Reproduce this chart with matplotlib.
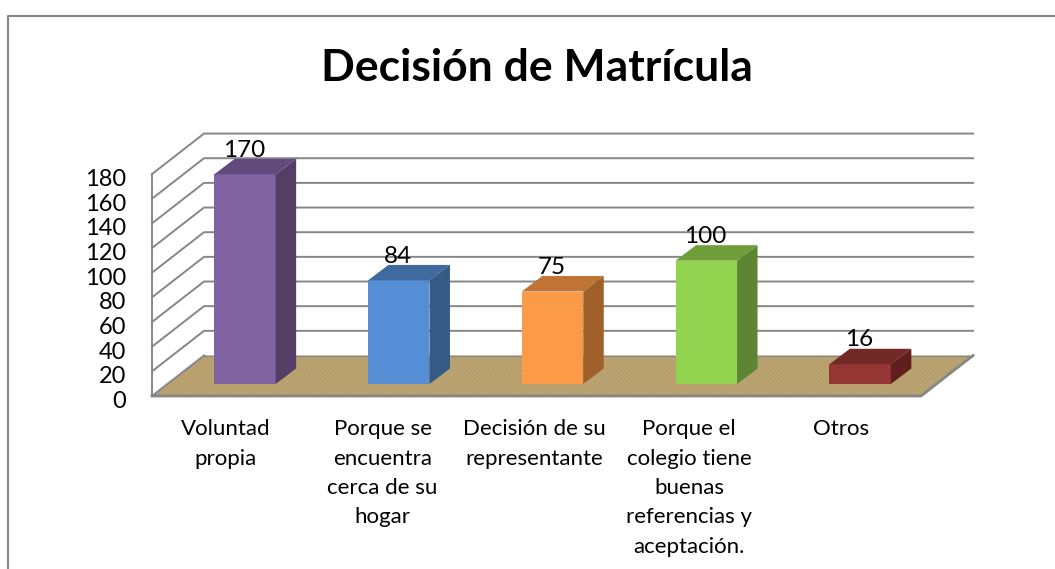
import matplotlib
matplotlib.use("Agg")
import matplotlib.pyplot as plt
from matplotlib.patches import Polygon

categorias = ["Voluntad\npropia", "Porque se\nencuentra\ncerca de su\nhogar",
              "Decisión de su\nrepresentante",
              "Porque el\ncolegio tiene\nbuenas\nreferencias y\naceptación.", "Otros"]
valores = [170, 84, 75, 100, 16]
ticks = list(range(0, 181, 20))
frente = ["#8064A2", "#558ED5", "#FB9A47", "#92D350", "#953735"]
arriba = ["#624B7C", "#3F699F", "#BF7433", "#6E9D3A", "#732926"]
lado = ["#543E66", "#355A85", "#9F6029", "#5E8632", "#601F1D"]

W, H = 1055, 569
x0, y0 = 152, 396      # front corner of the floor, pixels
px_cat = 153.8         # pixels per category
px_val = 1.233         # pixels per unit

plt.rcParams["font.family"] = ["Lato", "DejaVu Sans"]

fig = plt.figure(figsize=(W / 100, H / 100), dpi=100)
ax = fig.add_axes([0, 0, 1, 1])
ax.set_xlim(-x0 / px_cat, (W - x0) / px_cat)
ax.set_ylim((y0 - H) / px_val, y0 / px_val)
ax.axis("off")

# depth of the walls and of the bars, in data units
prof_x, prof_y = 52 / px_cat, 40.5 / px_val
bar_dx, bar_dy = 20.5 / px_cat, 15.5 / px_val
ini_x, ini_y = 16 / px_cat, 12 / px_val
ancho = 61.5 / px_cat
n = len(valores)
gris = "#868686"
ajuste = [0, 3, 1, 2, 0]   # label shift, pixels

# floor, with a faint weave
suelo = [(0, 0), (n, 0), (n + prof_x, prof_y), (prof_x, prof_y)]
ax.add_patch(Polygon(suelo, fc="#BDA674", ec="none", zorder=1))
plt.rcParams["hatch.linewidth"] = 0.4
ax.add_patch(Polygon(suelo, fc="none", ec="#B09A68", hatch="xxxxxxxx", lw=0, zorder=1))
ax.plot([0, n, n + prof_x], [0, 0, prof_y], color=gris, lw=2, zorder=2)
ax.plot([prof_x, n + prof_x], [prof_y, prof_y], color=gris, lw=0.8, zorder=2)

# grid on the walls
for t in ticks[1:]:
    ax.plot([0, prof_x, n + prof_x], [t, t + prof_y, t + prof_y], color=gris, lw=1.4, zorder=2)
ax.plot([0, prof_x], [0, prof_y], color=gris, lw=1.4, zorder=2)
ax.plot([0, 0], [0, ticks[-1]], color=gris, lw=1.4, zorder=2)

# bars
for i, v in enumerate(valores):
    x = i + 0.5 - ancho / 2 + ini_x
    y = ini_y
    ax.add_patch(Polygon([(x, y), (x + ancho, y), (x + ancho, y + v), (x, y + v)],
                         fc=frente[i], ec="none", zorder=3))
    ax.add_patch(Polygon([(x, y + v), (x + ancho, y + v),
                          (x + ancho + bar_dx, y + v + bar_dy), (x + bar_dx, y + v + bar_dy)],
                         fc=arriba[i], ec="none", zorder=3))
    ax.add_patch(Polygon([(x + ancho, y), (x + ancho + bar_dx, y + bar_dy),
                          (x + ancho + bar_dx, y + v + bar_dy), (x + ancho, y + v)],
                         fc=lado[i], ec="none", zorder=3))
    ax.text(x + ancho / 2 - 1 / px_cat, y + v + bar_dy - 1.4, str(v), ha="center", va="bottom",
            fontsize=17.5, color="black", zorder=4)
    ax.text(i + 0.5 - 0.02 + ajuste[i] / px_cat, -19, categorias[i], ha="center", va="top",
            fontsize=16, color="black", linespacing=1.58, zorder=4)

# y tick labels
for t in ticks:
    ax.text(-26 / px_cat, t - 4.5, str(t), ha="right", va="center", fontsize=17, color="black")

# title
fig.text(537 / W, 1 - 68 / H, "Decisión de Matrícula", ha="center", va="center",
         fontsize=32, fontweight="bold", color="black")

# chart frame
fig.add_artist(plt.Line2D([7.5 / W, 7.5 / W, 1], [0, 1 - 16 / H, 1 - 16 / H],
                          color=gris, lw=1.5))

fig.savefig("out.png", dpi=100)
